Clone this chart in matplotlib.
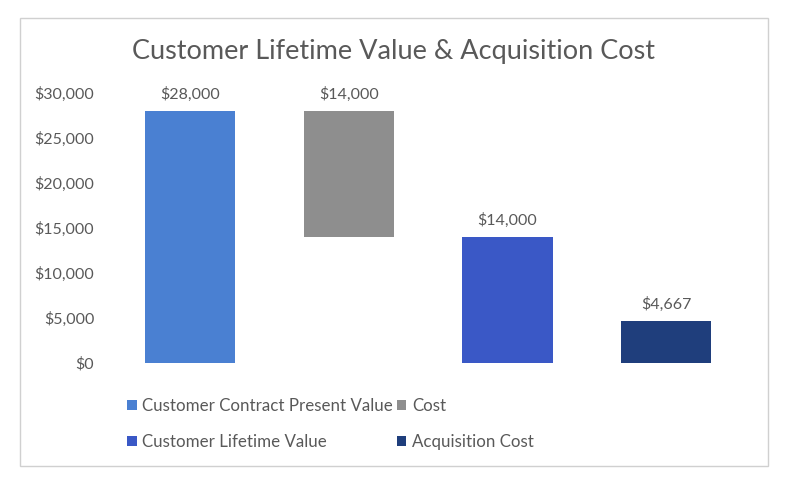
import matplotlib
matplotlib.use("Agg")
import matplotlib.pyplot as plt
from matplotlib.patches import Rectangle, Patch
from matplotlib.ticker import FuncFormatter

categories = ["Customer Contract Present Value", "Cost", "Customer Lifetime Value", "Acquisition Cost"]
values = [28000, 14000, 14000, 4667]
bottoms = [0, 14000, 0, 0]
colors = ["#4a80d2", "#8e8e8e", "#3a58c6", "#1f3e7c"]
yticks = [0, 5000, 10000, 15000, 20000, 25000, 30000]

plt.rcParams['font.family'] = ['Lato', 'DejaVu Sans']
txt = "#595959"

fig = plt.figure(figsize=(7.94, 4.93), dpi=100)
fig.patch.set_facecolor("white")
fig.add_artist(Rectangle((20/794, 1-466/493), (768-20)/794, (466-18)/493,
                         transform=fig.transFigure, fill=False, edgecolor="#d0d0d0", lw=1))

ax = fig.add_axes([110.9/794, 1-363/493, (745.4-110.9)/794, (363-93)/493])
x = list(range(len(categories)))
bars = ax.bar(x, values, bottom=bottoms, width=0.57, color=colors)
for xi, v, b in zip(x, values, bottoms):
    ax.text(xi, b + v + 1000, f"${v:,.0f}", ha="center", va="bottom", fontsize=11.5, color=txt)

ax.set_xlim(-0.5, 3.5)
ax.set_ylim(0, 30000)
ax.set_yticks(yticks)
ax.yaxis.set_major_formatter(FuncFormatter(lambda v, p: f"${v:,.0f}"))
ax.tick_params(axis="y", length=0, pad=12, labelsize=11.5, labelcolor=txt)
ax.set_xticks([])
for s in ax.spines.values():
    s.set_visible(False)

fig.text(393/794, 1-51/493, "Customer Lifetime Value & Acquisition Cost", ha="center", va="center",
         fontsize=19.5, color=txt)

order = [0, 2, 1, 3]
handles = [Patch(facecolor=colors[i], label=categories[i]) for i in order]
fig.legend(handles=handles, ncol=2, loc="upper left", bbox_to_anchor=(112/794, 1-383/493),
           frameon=False, fontsize=12.2, handlelength=0.55, handleheight=0.55, handletextpad=0.35,
           columnspacing=0.2, labelspacing=1.15, labelcolor=txt)

fig.savefig("out.png", dpi=100)
